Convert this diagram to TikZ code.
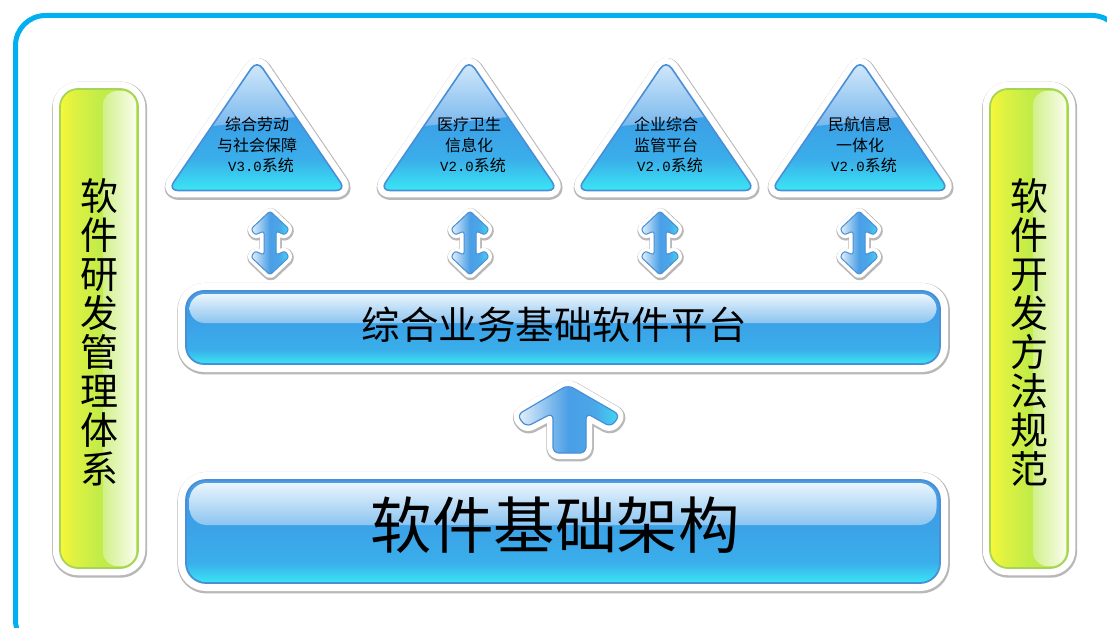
\documentclass[tikz,border=0pt]{standalone}
\usepackage{fontspec}
\newfontfamily\cjk{Noto Sans CJK SC}
\newfontfamily\monof{Liberation Mono}
\definecolor{frameblue}{HTML}{00B0F0}
\definecolor{ringgray}{HTML}{B8B8B8}
\definecolor{blueline}{HTML}{4A8FD6}
\definecolor{greenline}{HTML}{A6D45A}
\definecolor{bBot}{HTML}{3AE6F4}
\definecolor{bLow}{HTML}{3AAEEA}
\definecolor{bMid}{HTML}{3C9DE7}
\definecolor{bTop}{HTML}{4A9FE6}
\definecolor{hiTop}{HTML}{EAF5FD}
\definecolor{hiBot}{HTML}{8CC4F0}
\definecolor{tHiT}{HTML}{DDEEFB}
\definecolor{tHiB}{HTML}{6FB3EC}
\definecolor{gY}{HTML}{F8F838}
\definecolor{gYb}{HTML}{E0F240}
\definecolor{gG}{HTML}{C2EC48}
\definecolor{gGb}{HTML}{BCE84C}
\definecolor{gHiL}{HTML}{D2F08A}
\definecolor{gHiR}{HTML}{F8FDEC}
\definecolor{aL}{HTML}{E8F2FB}
\definecolor{aLb}{HTML}{7AB8EC}
\definecolor{aM}{HTML}{4A9EE6}
\definecolor{aMb}{HTML}{4AA8E8}
\definecolor{aR}{HTML}{40DAF0}
\pgfdeclareverticalshading{barbase}{100bp}{color(0bp)=(bBot); color(25bp)=(bBot); color(35bp)=(bLow); color(60bp)=(bMid); color(75bp)=(bTop); color(100bp)=(bTop)}
\pgfdeclareverticalshading{tribase}{100bp}{color(0bp)=(bBot); color(25bp)=(bBot); color(37bp)=(bLow); color(55bp)=(bMid); color(75bp)=(bTop); color(100bp)=(bTop)}
\pgfdeclarehorizontalshading{greenbase}{100bp}{color(0bp)=(gY); color(25bp)=(gY); color(33bp)=(gYb); color(50bp)=(gG); color(75bp)=(gGb); color(100bp)=(gGb)}
\pgfdeclarehorizontalshading{arrowsh}{100bp}{color(0bp)=(aL); color(25bp)=(aL); color(42bp)=(aLb); color(50bp)=(aM); color(63bp)=(aMb); color(75bp)=(aR); color(100bp)=(aR)}
\newcommand\ringshade[4]{%
  \draw[ringgray, line width=#1, shift={(0.6,1.2)}] #4;
  \draw[white, line width=#2] #4;
  \shade[shading=#3] #4;
}
\newcommand\tri[5]{%
  \ringshade{16.5pt}{14pt}{tribase}{[rounded corners=10pt] (#1,60) -- ({#1+89},190.5) -- ({#1-89},190.5) -- cycle}
  \begin{scope}
    \clip[rounded corners=10pt] (#1,60) -- ({#1+89},190.5) -- ({#1-89},190.5) -- cycle;
    \shade[top color=tHiT, bottom color=tHiB] ({#1-100},55) -- ({#1+100},55) -- ({#1+100},112) .. controls ({#1+30},117) and ({#1-30},124) .. ({#1-100},133) -- cycle;
  \end{scope}
  \draw[blueline, line width=1.6pt, rounded corners=10pt] (#1,60) -- ({#1+89},190.5) -- ({#1-89},190.5) -- cycle;
  \node[tritext] (#2) at (#1,145) {#3\\#4\\#5};
}
\newcommand\dbl[1]{%
  \ringshade{10.5pt}{8pt}{arrowsh}{[rounded corners=2.5pt] (#1,211) -- ({#1+19},229) -- ({#1+15},235) -- ({#1+6},231) -- ({#1+6},255) -- ({#1+15},251) -- ({#1+19},257) -- (#1,275) -- ({#1-19},257) -- ({#1-15},251) -- ({#1-6},255) -- ({#1-6},231) -- ({#1-15},235) -- ({#1-19},229) -- cycle}
  \draw[blueline, line width=1pt, rounded corners=2.5pt] (#1,211) -- ({#1+19},229) -- ({#1+15},235) -- ({#1+6},231) -- ({#1+6},255) -- ({#1+15},251) -- ({#1+19},257) -- (#1,275) -- ({#1-19},257) -- ({#1-15},251) -- ({#1-6},255) -- ({#1-6},231) -- ({#1-15},235) -- ({#1-19},229) -- cycle;
}
\newcommand\greenbar[3]{%
  \ringshade{17pt}{14.5pt}{greenbase}{[rounded corners=18pt] (#1,89) rectangle ++(78,479)}
  \shade[left color=gHiL, right color=gHiR, rounded corners=14pt] ({#1+43},91) rectangle ({#1+76},566);
  \draw[greenline, line width=1.8pt, rounded corners=18pt] (#1,89) rectangle ++(78,479);
  \node[vtext] (#2) at ({#1+39},332) {#3};
}
\begin{document}
\begin{tikzpicture}[x=1pt,y=-1pt,line join=round,
  vtext/.style={font=\cjk\fontsize{38}{39}\selectfont, align=center, inner sep=0pt},
  tritext/.style={font=\cjk\fontsize{16}{20.5}\selectfont, align=center, inner sep=0pt}]
\useasboundingbox (0,0) rectangle (1107,628);
\fill[white] (0,0) rectangle (1107,628);
\draw[frameblue, line width=5pt, rounded corners=30pt] (15.5,15.5) rectangle (1122,650);
% side bars
\greenbar{60}{mgmt}{软\\件\\研\\发\\管\\理\\体\\系}
\greenbar{990}{method}{软\\件\\开\\发\\方\\法\\规\\范}
% triangles
\tri{257}{sys1}{综合劳动}{与社会保障}{\hspace*{8pt}{\monof\fontsize{14}{20.5}\selectfont V3.0}系统}
\tri{469}{sys2}{医疗卫生}{信息化}{\hspace*{8pt}{\monof\fontsize{14}{20.5}\selectfont V2.0}系统}
\tri{666}{sys3}{企业综合}{监管平台}{\hspace*{8pt}{\monof\fontsize{14}{20.5}\selectfont V2.0}系统}
\tri{860}{sys4}{民航信息}{一体化}{\hspace*{8pt}{\monof\fontsize{14}{20.5}\selectfont V2.0}系统}
% double arrows
\dbl{270}
\dbl{470}
\dbl{660}
\dbl{859}
% platform bar
\ringshade{18.5pt}{16pt}{barbase}{[rounded corners=18pt] (186,291) rectangle (940,364)}
\shade[top color=hiTop, bottom color=hiBot, rounded corners=15pt] (189.5,294) rectangle (936.5,323);
\draw[blueline, line width=1.8pt, rounded corners=18pt] (186,291) rectangle (940,364);
\node[font=\cjk\fontsize{38.5}{40}\selectfont, inner sep=0pt] (platform) at (554,325) {综合业务基础软件平台};
% up arrow
\ringshade{14.5pt}{12pt}{arrowsh}{[rounded corners=6pt] (568,385) -- (620,415) -- (611,427) -- (586,413) -- (586,453) -- (553,453) -- (553,413) -- (526,427) -- (517,415) -- cycle}
\draw[blueline, line width=1.2pt, rounded corners=6pt] (568,385) -- (620,415) -- (611,427) -- (586,413) -- (586,453) -- (553,453) -- (553,413) -- (526,427) -- (517,415) -- cycle;
% base bar
\ringshade{18.5pt}{16pt}{barbase}{[rounded corners=20pt] (186,480) rectangle (940,583)}
\shade[top color=hiTop, bottom color=hiBot, rounded corners=17pt] (189.5,483) rectangle (936.5,525);
\draw[blueline, line width=1.8pt, rounded corners=20pt] (186,480) rectangle (940,583);
\node[font=\cjk\fontsize{61.5}{64}\selectfont, inner sep=0pt] (base) at (555,525) {软件基础架构};
\end{tikzpicture}
\end{document}
